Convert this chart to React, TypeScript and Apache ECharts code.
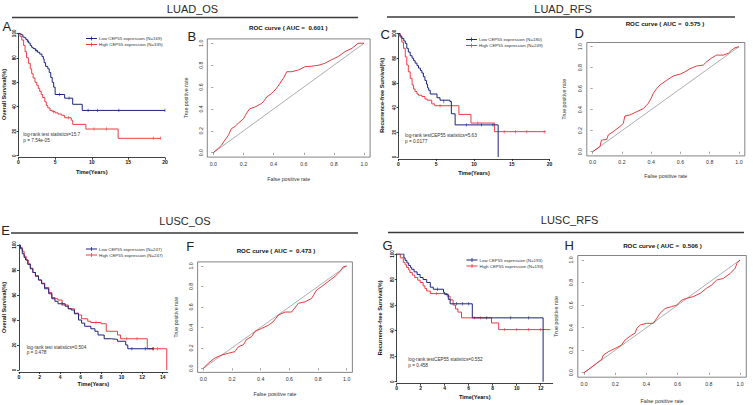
import React, { useEffect, useRef } from 'react';
import * as echarts from 'echarts';

const FONT = 'Arial, "Liberation Sans", Helvetica, sans-serif';
const BLUE = '#1a2380';
const RED = '#ef3b40';
const ROC_RED = '#e3262b';

// ---------- Kaplan-Meier data: [time (years), survival %] ----------
const A_LOW: [number, number][] = [[0,100],[0.2,99.4],[0.4,98.8],[0.6,97],[0.8,96.4],[1.0,95],[1.2,93.5],[1.4,92],[1.6,90],[1.8,88.5],[2.0,87.5],[2.3,86],[2.6,84.5],[2.9,83],[3.2,81],[3.4,79],[3.5,76],[3.7,73],[4.0,71],[4.2,68],[4.4,64],[4.6,60],[4.8,56],[5.0,50],[6.3,47],[7.4,42],[8.7,37],[20,37]];
const A_HIGH: [number, number][] = [[0,100],[0.2,97.5],[0.45,94.5],[0.7,90],[0.9,85],[1.1,80],[1.35,75.5],[1.6,71],[1.8,67],[2.0,63.5],[2.25,60],[2.5,57.5],[2.7,55],[2.9,52.5],[3.1,50],[3.3,47.5],[3.6,44],[3.8,41],[4.0,39],[4.3,37],[4.6,36],[5.0,35],[5.4,34],[5.9,33],[6.3,31],[7.2,29],[7.4,25.6],[9.2,21.8],[13.6,14.2],[19.4,14.2]];
const A_LOW_CENS: [number, number][] = [[1.3,93.5],[2.4,86],[5.6,50],[6.9,47],[9.5,37],[10.8,37],[13.7,37],[20,37]];
const A_HIGH_CENS: [number, number][] = [[4.8,36],[6.8,31],[10.3,21.8],[12,21.8],[18.4,14.2],[19.4,14.2]];

const C_LOW: [number, number][] = [[0,100],[0.2,98],[0.44,96],[0.7,94],[0.9,92],[1.1,88],[1.3,85],[1.55,82],[1.8,80],[2.0,78],[2.2,76],[2.45,74],[2.65,72],[2.9,70],[3.1,68],[3.3,65],[3.5,62],[3.7,59],[3.85,56],[4.0,54],[4.2,51],[5.1,48],[5.5,46],[6.8,45],[7.0,35],[7.5,26],[13.2,0]];
const C_HIGH: [number, number][] = [[0,100],[0.2,97],[0.44,93],[0.66,88],[0.9,81],[1.1,74.5],[1.3,69],[1.55,63.7],[1.8,58.3],[2.0,55],[2.2,53],[2.45,51],[2.65,50],[3.1,49],[3.5,47],[3.8,46],[4.4,43],[4.8,41.5],[8.0,34.5],[9.6,27.5],[12.7,20.5],[19.5,20.5]];
const C_LOW_CENS: [number, number][] = [[6.0,45],[9.0,26],[11.0,26],[12.5,26]];
const C_HIGH_CENS: [number, number][] = [[5.5,41.5],[10.5,27.5],[14.0,20.5],[15.5,20.5],[17.0,20.5],[19.3,20.5]];

const E_LOW: [number, number][] = [[0,100],[0.15,97],[0.32,93],[0.5,90],[0.64,88],[0.85,84.5],[1.1,81],[1.35,78],[1.6,75],[1.9,72],[2.2,69],[2.5,65],[2.9,61],[3.2,57],[3.5,55],[3.8,53],[4.5,51],[4.8,49],[5.1,48],[5.4,45],[5.8,40],[6.1,37.5],[6.4,35],[7.0,33],[7.4,31],[7.7,28],[8.3,25],[9.0,24.5],[9.6,23],[10.4,20],[10.6,17],[13.1,17]];
const E_HIGH: [number, number][] = [[0,100],[0.15,98],[0.32,95],[0.5,91],[0.7,88],[0.9,85],[1.1,81.5],[1.35,78],[1.6,75.5],[1.9,72],[2.2,69.5],[2.5,66],[2.9,62],[3.2,58],[3.5,57],[3.8,56],[4.2,52],[4.8,49],[5.4,45.5],[5.8,44],[6.1,41],[6.7,39],[7.0,38],[8.0,37],[8.5,31],[9.6,28],[9.9,25],[12.5,17],[14.4,0]];
const E_LOW_CENS: [number, number][] = [[4.2,53],[11.0,17],[12.3,17],[13.1,17]];
const E_HIGH_CENS: [number, number][] = [[7.5,38],[10.5,25],[11.5,25],[13.0,17],[13.5,17]];

const G_LOW: [number, number][] = [[0,100],[0.6,97],[0.7,95],[0.85,93],[1.0,91],[1.15,89.5],[1.25,88],[1.45,86],[1.7,84],[1.95,81.6],[2.2,80],[2.5,77.7],[2.8,74],[3.05,72.4],[3.9,70],[4.0,68.4],[4.3,64.5],[4.45,61],[6.3,50],[12.2,0]];
const G_HIGH: [number, number][] = [[0,100],[0.3,97],[0.55,93.4],[0.7,91.5],[0.83,89.5],[1.0,87.5],[1.1,85.5],[1.3,83.5],[1.5,81.6],[1.75,79.5],[1.95,77.7],[2.2,75],[2.35,73],[2.5,71],[2.8,69],[4.2,67],[4.45,64],[4.7,60],[4.9,57],[5.1,54.5],[5.4,50],[7.9,46],[8.5,40.8],[12.8,40.8]];
const G_LOW_CENS: [number, number][] = [[3.4,72.4],[5.0,61],[5.5,61],[6.0,61],[7.5,50],[9.5,50],[11.0,50]];
const G_HIGH_CENS: [number, number][] = [[3.3,69],[6.5,50],[7.0,50],[9.0,40.8],[10.0,40.8],[11.0,40.8],[12.0,40.8]];

// ---------- ROC data: [false positive rate, true positive rate] ----------
const B_ROC: [number, number][] = [[0,0],[0.033,0.04],[0.055,0.07],[0.077,0.116],[0.1,0.16],[0.12,0.22],[0.144,0.24],[0.166,0.27],[0.2,0.31],[0.22,0.36],[0.24,0.4],[0.28,0.42],[0.32,0.45],[0.34,0.48],[0.354,0.51],[0.376,0.53],[0.4,0.56],[0.42,0.59],[0.44,0.63],[0.465,0.68],[0.487,0.74],[0.52,0.74],[0.564,0.756],[0.61,0.787],[0.65,0.79],[0.7,0.8],[0.74,0.817],[0.785,0.85],[0.83,0.88],[0.874,0.924],[0.92,0.954],[0.96,1.0],[1,1]];
const D_ROC: [number, number][] = [[0,0],[0.05,0.048],[0.06,0.11],[0.096,0.117],[0.107,0.16],[0.14,0.19],[0.187,0.24],[0.21,0.27],[0.22,0.34],[0.255,0.35],[0.3,0.38],[0.346,0.41],[0.38,0.46],[0.4,0.51],[0.415,0.556],[0.437,0.6],[0.46,0.635],[0.506,0.68],[0.55,0.72],[0.6,0.74],[0.63,0.76],[0.665,0.79],[0.71,0.816],[0.756,0.825],[0.78,0.857],[0.81,0.89],[0.847,0.92],[0.893,0.92],[0.927,0.937],[0.95,0.968],[0.973,0.99],[1,1]];
const F_ROC: [number, number][] = [[0,0],[0.035,0.05],[0.08,0.1],[0.128,0.13],[0.174,0.147],[0.22,0.163],[0.244,0.21],[0.28,0.23],[0.3,0.28],[0.337,0.31],[0.36,0.36],[0.407,0.39],[0.453,0.42],[0.488,0.456],[0.523,0.52],[0.57,0.55],[0.616,0.55],[0.663,0.635],[0.71,0.65],[0.756,0.684],[0.79,0.765],[0.826,0.8],[0.87,0.847],[0.92,0.9],[0.953,0.945],[0.977,0.993],[1,1]];
const H_ROC: [number, number][] = [[0,0],[0.038,0.038],[0.08,0.083],[0.113,0.118],[0.124,0.157],[0.156,0.186],[0.2,0.216],[0.24,0.245],[0.263,0.29],[0.305,0.334],[0.327,0.35],[0.338,0.393],[0.36,0.423],[0.4,0.438],[0.444,0.438],[0.466,0.482],[0.487,0.527],[0.52,0.57],[0.56,0.586],[0.594,0.6],[0.626,0.645],[0.658,0.66],[0.7,0.675],[0.744,0.704],[0.786,0.75],[0.818,0.778],[0.85,0.822],[0.893,0.837],[0.936,0.88],[0.968,0.926],[0.98,0.97],[1,1]];
const DIAG: [number, number][] = [[0,0],[1,1]];

// ---------- tick values and labels ----------
const KM_Y_TICKS = [0, 20, 40, 60, 80, 100];
const A_X_TICKS = [0, 5, 10, 15, 20];
const C_X_TICKS = [0, 5, 10, 15, 20];
const E_X_TICKS = [0, 2, 4, 6, 8, 10, 12, 14];
const G_X_TICKS = [0, 2, 4, 6, 8, 10, 12];
const ROC_TICKS = [0, 0.2, 0.4, 0.6, 0.8, 1.0];

const A_LEGEND = ['Low CEP55 expression (N=169)', 'High CEP55 expression (N=335)'];
const C_LEGEND = ['Low CEP55 expression (N=180)', 'High CEP55 expression (N=249)'];
const E_LEGEND = ['Low CEP55 expression (N=247)', 'High CEP55 expression (N=247)'];
const G_LEGEND = ['Low CEP55 expression (N=193)', 'High CEP55 expression (N=193)'];

const A_STATS = ['log-rank test statistics=15.7', 'p = 7.54e-05'];
const C_STATS = ['log-rank testCEP55 statistics=5.63', 'p = 0.0177'];
const E_STATS = ['log-rank test statistics=0.504', 'p = 0.478'];
const G_STATS = ['log-rank testCEP55 statistics=0.552', 'p = 0.458'];

const ROC_TITLES = ['ROC curve ( AUC =  0.601 )', 'ROC curve ( AUC =  0.575 )', 'ROC curve ( AUC =  0.473 )', 'ROC curve ( AUC =  0.506 )'];
const HEADERS = ['LUAD_OS', 'LUAD_RFS', 'LUSC_OS', 'LUSC_RFS'];
const LETTERS = ['A', 'B', 'C', 'D', 'E', 'F', 'G', 'H'];

const LEGEND_ICON = 'path://M0,1.6H11V2.4H0Z M5.1,0H5.9V4H5.1Z';

type Rect = { left: number; top: number; width: number; height: number };

export default function App() {
  const ref = useRef<HTMLDivElement>(null);

  useEffect(() => {
    if (!ref.current) return;
    const chart = echarts.init(ref.current, undefined, { renderer: 'svg' });

    const grids: any[] = [];
    const xAxes: any[] = [];
    const yAxes: any[] = [];
    const series: any[] = [];
    const legends: any[] = [];
    const graphics: any[] = [];

    const addKM = (
      rect: Rect, xMax: number, xTicks: number[], yName: string, xGap: number, yGap: number,
      low: [number, number][], high: [number, number][], lowC: [number, number][], highC: [number, number][],
      names: string[], legPos: [number, number], stats: string[], statPos: [number, number]
    ) => {
      const i = grids.length;
      grids.push({ ...rect, containLabel: false, show: false });
      xAxes.push({
        gridIndex: i, type: 'value', min: 0, max: xMax, offset: 2,
        axisLine: { show: true, onZero: false, lineStyle: { color: '#111', width: 0.8 } },
        axisTick: { show: true, length: 2, customValues: xTicks, lineStyle: { color: '#111', width: 0.8 } },
        axisLabel: { customValues: xTicks, fontSize: 5, fontWeight: 'bold', color: '#111', margin: 2, fontFamily: FONT },
        splitLine: { show: false },
        name: 'Time(Years)', nameLocation: 'middle', nameGap: xGap,
        nameTextStyle: { fontSize: 5.6, fontWeight: 'bold', color: '#111', fontFamily: FONT },
      });
      yAxes.push({
        gridIndex: i, type: 'value', min: 0, max: 100,
        axisLine: { show: true, onZero: false, lineStyle: { color: '#111', width: 0.8 } },
        axisTick: { show: true, length: 2, customValues: KM_Y_TICKS, lineStyle: { color: '#111', width: 0.8 } },
        axisLabel: { customValues: KM_Y_TICKS, fontSize: 4.6, fontWeight: 'bold', color: '#111', margin: 2, rotate: 90, fontFamily: FONT },
        splitLine: { show: false },
        name: yName, nameLocation: 'middle', nameGap: yGap, nameRotate: 90,
        nameTextStyle: { fontSize: 5.6, fontWeight: 'bold', color: '#111', fontFamily: FONT },
      });
      series.push(
        { type: 'line', name: names[1], xAxisIndex: i, yAxisIndex: i, data: high, step: 'end', showSymbol: false, lineStyle: { color: RED, width: 1 }, itemStyle: { color: RED }, z: 2 },
        { type: 'line', name: names[0], xAxisIndex: i, yAxisIndex: i, data: low, step: 'end', showSymbol: false, lineStyle: { color: BLUE, width: 1 }, itemStyle: { color: BLUE }, z: 3 },
        { type: 'scatter', xAxisIndex: i, yAxisIndex: i, data: highC, symbol: 'rect', symbolSize: [0.7, 3.4], itemStyle: { color: RED }, silent: true, z: 2 },
        { type: 'scatter', xAxisIndex: i, yAxisIndex: i, data: lowC, symbol: 'rect', symbolSize: [0.7, 3.4], itemStyle: { color: BLUE }, silent: true, z: 3 },
      );
      legends.push({
        left: legPos[0], top: legPos[1], orient: 'vertical', padding: 0,
        itemWidth: 11, itemHeight: 4, itemGap: 1,
        data: [{ name: names[0], icon: LEGEND_ICON }, { name: names[1], icon: LEGEND_ICON }],
        textStyle: { fontSize: 4.4, color: '#333', fontFamily: FONT, lineHeight: 5, padding: [0, 0, 0, -3] },
        selectedMode: false,
      });
      graphics.push(
        { type: 'text', left: statPos[0], top: statPos[1], style: { text: stats[0], fontSize: 4.7, fill: '#333', fontFamily: FONT } },
        { type: 'text', left: statPos[0], top: statPos[1] + 5.8, style: { text: stats[1], fontSize: 4.7, fill: '#333', fontFamily: FONT } },
      );
    };

    const addROC = (rect: Rect, data: [number, number][], title: string, titlePos: [number, number], xGap: number, yGap: number) => {
      const i = grids.length;
      grids.push({ ...rect, containLabel: false, show: true, borderColor: '#666', borderWidth: 0.8, backgroundColor: 'transparent' });
      const common = {
        gridIndex: i, type: 'value', min: -0.04, max: 1.04,
        axisLine: { show: false },
        axisTick: { show: true, length: 2.2, inside: false, customValues: ROC_TICKS, lineStyle: { color: '#666', width: 0.6 } },
        splitLine: { show: false },
        nameLocation: 'middle',
        nameTextStyle: { fontSize: 5.3, color: '#333', fontFamily: FONT },
      };
      xAxes.push({
        ...common, name: 'False positive rate', nameGap: xGap,
        axisLabel: { customValues: ROC_TICKS, fontSize: 5.2, color: '#333', margin: 4, fontFamily: FONT, formatter: (v: number) => v.toFixed(1) },
      });
      yAxes.push({
        ...common, name: 'True positive rate', nameGap: yGap, nameRotate: 90,
        axisLabel: { customValues: ROC_TICKS, fontSize: 5.2, color: '#333', margin: 4, rotate: 90, fontFamily: FONT, formatter: (v: number) => v.toFixed(1) },
      });
      series.push(
        { type: 'line', xAxisIndex: i, yAxisIndex: i, data: DIAG, showSymbol: false, silent: true, lineStyle: { color: '#8a8a8a', width: 0.7 }, z: 2 },
        { type: 'line', xAxisIndex: i, yAxisIndex: i, data, showSymbol: false, silent: true, lineStyle: { color: ROC_RED, width: 0.9 }, z: 3 },
      );
      graphics.push({
        type: 'text', x: titlePos[0], y: titlePos[1],
        style: { text: title, fontSize: 6.2, fontWeight: 'bold', fill: '#111', fontFamily: FONT, align: 'center', verticalAlign: 'middle' },
      });
    };

    addKM({ left: 16.7, top: 33.3, width: 148.3, height: 122.4 }, 20, A_X_TICKS, 'Overall Survival(%)', 11, 11.5,
      A_LOW, A_HIGH, A_LOW_CENS, A_HIGH_CENS, A_LEGEND, [86, 36], A_STATS, [23.3, 132.3]);
    addROC({ left: 207.3, top: 38.9, width: 162.8, height: 118.2 }, B_ROC, ROC_TITLES[0], [288.3, 27.7], 19, 19);
    addKM({ left: 398.5, top: 33.5, width: 151, height: 123.5 }, 20, C_X_TICKS, 'Recurrence-free Survival(%)', 11, 13.5,
      C_LOW, C_HIGH, C_LOW_CENS, C_HIGH_CENS, C_LEGEND, [466, 37], C_STATS, [405, 133.3]);
    addROC({ left: 586.8, top: 42.5, width: 158, height: 113.4 }, D_ROC, ROC_TITLES[1], [665, 23.3], 17.4, 20);
    addKM({ left: 16.7, top: 245, width: 151.1, height: 125 }, 14.5, E_X_TICKS, 'Overall Survival(%)', 9, 12,
      E_LOW, E_HIGH, E_LOW_CENS, E_HIGH_CENS, E_LEGEND, [86, 246.5], E_STATS, [26.7, 344.5]);
    addROC({ left: 197.6, top: 261.9, width: 154.8, height: 110.5 }, F_ROC, ROC_TITLES[2], [276, 250.7], 19.3, 19.3);
    addKM({ left: 396.7, top: 254, width: 156, height: 127.7 }, 13, G_X_TICKS, 'Recurrence-free Survival(%)', 10.3, 13.7,
      G_LOW, G_HIGH, G_LOW_CENS, G_HIGH_CENS, G_LEGEND, [466.5, 257.5], G_STATS, [408.3, 356.8]);
    addROC({ left: 577.8, top: 255.5, width: 168.5, height: 121.7 }, H_ROC, ROC_TITLES[3], [662.5, 245], 21, 19.5);

    // section headers with rules
    const headerPos: [number, number][] = [[192.5, 9], [563, 9], [185, 220.5], [569.5, 220]];
    const rulePos: [number, number, number][] = [[12, 358, 17.5], [387, 735, 17], [11, 358, 233], [388, 744, 232.5]];
    HEADERS.forEach((h, k) => {
      graphics.push({
        type: 'text', x: headerPos[k][0], y: headerPos[k][1],
        style: { text: h, fontSize: 11, fill: '#2a2a2a', fontFamily: FONT, align: 'center', verticalAlign: 'middle' },
      });
      graphics.push({
        type: 'line', shape: { x1: rulePos[k][0], y1: rulePos[k][2], x2: rulePos[k][1], y2: rulePos[k][2] },
        style: { stroke: '#3a3a3a', lineWidth: 1.4 },
      });
    });
    const letterPos: [number, number][] = [[2.5, 26.7], [187.5, 36.7], [380.5, 34.7], [574.5, 33.3], [1.2, 230], [186.2, 246.7], [382.5, 245], [564.5, 245]];
    LETTERS.forEach((L, k) => {
      graphics.push({
        type: 'text', x: letterPos[k][0], y: letterPos[k][1],
        style: { text: L, fontSize: 13, fill: '#222', fontFamily: FONT, align: 'left', verticalAlign: 'middle' },
      });
    });

    chart.setOption({
      animation: false,
      backgroundColor: '#ffffff',
      textStyle: { fontFamily: FONT },
      grid: grids,
      xAxis: xAxes,
      yAxis: yAxes,
      legend: legends,
      series,
      graphic: graphics,
    });

    return () => chart.dispose();
  }, []);

  return <div ref={ref} style={{ position: 'absolute', left: 0, top: 0, width: 753, height: 405 }} />;
}
